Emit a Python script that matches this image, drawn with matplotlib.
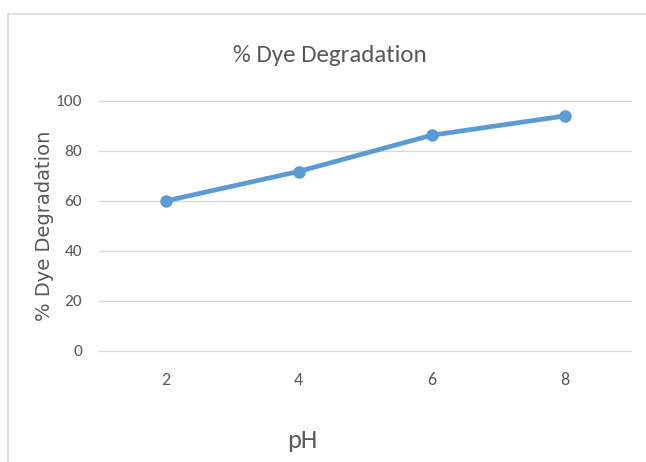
import matplotlib.pyplot as plt
from matplotlib.patches import Rectangle

# data
ph_labels = ['2', '4', '6', '8']
degradation = [60.0, 71.8, 86.3, 94.0]
y_ticks = [0, 20, 40, 60, 80, 100]

line_color = '#5B9BD5'
text_color = '#595959'
calibri = ['Carlito', 'DejaVu Sans']

fig = plt.figure(figsize=(6.46, 4.62), dpi=100)

# light chart-area frame, only the left and top edges are visible
frame = Rectangle((8 / 646, -0.1), 1.2, 0.1 + (462 - 14) / 462,
                  transform=fig.transFigure, fill=False,
                  edgecolor='#D9D9D9', linewidth=1.2)
fig.add_artist(frame)

ax = fig.add_axes([99 / 646, 111 / 462, 532 / 646, 250 / 462])
xpos = list(range(len(ph_labels)))
ax.plot(xpos, degradation, color=line_color, linewidth=3.4,
        marker='o', markersize=8, solid_capstyle='round')

ax.set_xlim(-0.5, len(ph_labels) - 0.5)
ax.set_ylim(0, 100)
ax.set_yticks(y_ticks)
ax.set_xticks(xpos)
ax.set_xticklabels(ph_labels)
ax.grid(axis='y', color='#D9D9D9', linewidth=1)
for gl in ax.get_ygridlines():
    gl.set_clip_on(False)
ax.set_axisbelow(True)
for s in ax.spines.values():
    s.set_visible(False)
ax.tick_params(length=0, labelsize=12.5, labelcolor=text_color)
ax.tick_params(axis='y', pad=12)
ax.tick_params(axis='x', pad=15, labelsize=13)
for lbl in ax.get_xticklabels() + ax.get_yticklabels():
    lbl.set_family(calibri)

fig.text(330 / 646, 1 - 55 / 462, '% Dye Degradation', ha='center', va='center',
         fontsize=18, color=text_color, family=calibri)
fig.text(302 / 646, 1 - 441 / 462, 'pH', ha='center', va='center',
         fontsize=19, color=text_color, family=calibri)
fig.text(45 / 646, 1 - 226 / 462, '% Dye Degradation', rotation=90,
         ha='center', va='center', fontsize=14, color=text_color)

fig.savefig('out.png', dpi=100)
